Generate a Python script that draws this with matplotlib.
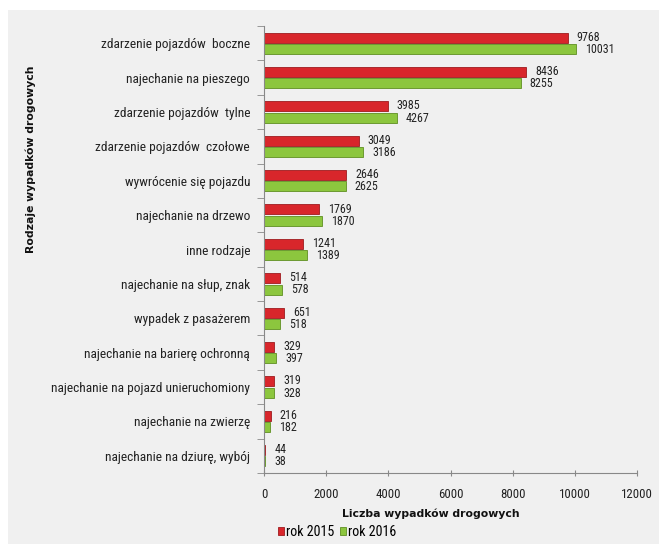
import matplotlib
matplotlib.use("Agg")
import matplotlib.pyplot as plt
import numpy as np
from matplotlib.patches import Rectangle
from matplotlib import font_manager as fm

categories = [
    "zdarzenie pojazdów  boczne",
    "najechanie na pieszego",
    "zdarzenie pojazdów  tylne",
    "zdarzenie pojazdów  czołowe",
    "wywrócenie się pojazdu",
    "najechanie na drzewo",
    "inne rodzaje",
    "najechanie na słup, znak",
    "wypadek z pasażerem",
    "najechanie na barierę ochronną",
    "najechanie na pojazd unieruchomiony",
    "najechanie na zwierzę",
    "najechanie na dziurę, wybój",
]
rok2015 = [9768, 8436, 3985, 3049, 2646, 1769, 1241, 514, 651, 329, 319, 216, 44]
rok2016 = [10031, 8255, 4267, 3186, 2625, 1870, 1389, 578, 518, 397, 328, 182, 38]
xticks = [0, 2000, 4000, 6000, 8000, 10000, 12000]


def _regular(f):
    w = f.weight
    return f.style == "normal" and (w == 400 or w == "normal" or w == "regular")


def pick_narrow():
    entries = [f for f in fm.fontManager.ttflist if _regular(f)]
    names = ["Liberation Sans Narrow", "Arial Narrow", "Roboto Condensed",
             "Noto Sans Condensed", "Open Sans Condensed", "DejaVu Sans Condensed"]
    scales = {"Liberation Sans Narrow": 1.0, "Arial Narrow": 1.0, "Roboto Condensed": 0.88,
              "Noto Sans Condensed": 0.85, "Open Sans Condensed": 0.85,
              "DejaVu Sans Condensed": 0.82}
    for nm in names:
        for f in entries:
            if f.name == nm:
                return fm.FontProperties(fname=f.fname), scales[nm]
    for f in entries:
        fn = f.fname.lower().rsplit("/", 1)[-1]
        if fn.startswith("notosans-condensed.") or fn.startswith("notosans-semicondensed."):
            return fm.FontProperties(fname=f.fname), 0.85
    for f in entries:
        nm = f.name.lower()
        if ("condensed" in nm or "narrow" in nm or f.stretch in ("condensed", "semi-condensed")) \
                and "mono" not in nm and "serif" not in nm:
            return fm.FontProperties(fname=f.fname), 0.86
    return fm.FontProperties(family="Liberation Sans"), 0.8


base_fp, scale = pick_narrow()


def nfp(size):
    p = base_fp.copy()
    p.set_size(size * scale)
    return p


W, H = 659, 544
bg = "#f0f0f0"
red = "#d8262b"
green = "#8cc63e"

fig = plt.figure(figsize=(W / 100, H / 100), dpi=100)
fig.patch.set_facecolor("white")
fig.patches.append(Rectangle((8 / W, 0), 1, (H - 10) / H, transform=fig.transFigure,
                             facecolor=bg, edgecolor="none", zorder=-10))

ax = fig.add_axes([264 / W, (H - 473) / H, (637 - 264) / W, (473 - 26) / H])
ax.set_facecolor(bg)

y = np.arange(len(categories))
off = 0.165
h = 0.29
ax.barh(y - off, rok2015, height=h, color=red, edgecolor="#9e1b1f", linewidth=0.6, label="rok 2015")
ax.barh(y + off, rok2016, height=h, color=green, edgecolor="#5f8f22", linewidth=0.6, label="rok 2016")

for i in range(len(categories)):
    ax.annotate(str(rok2015[i]), (rok2015[i], y[i] - off), xytext=(6.5, 0.3), textcoords="offset points",
                va="center", ha="left", fontproperties=nfp(9.8), color="#222222")
    ax.annotate(str(rok2016[i]), (rok2016[i], y[i] + off), xytext=(6.5, -0.3), textcoords="offset points",
                va="center", ha="left", fontproperties=nfp(9.8), color="#222222")

ax.set_ylim(len(categories) - 0.5, -0.5)
ax.set_xlim(0, 12000)
ax.set_yticks(y)
ax.set_yticklabels(categories, fontproperties=nfp(11), color="#222222")
ax.set_yticks(np.arange(len(categories) + 1) - 0.5, minor=True)
ax.tick_params(axis="y", which="major", length=0, pad=10)
ax.tick_params(axis="y", which="minor", length=5, color="#888888", direction="out")
ax.set_xticks(xticks)
ax.set_xticklabels([str(t) for t in xticks], fontproperties=nfp(10.5), color="#222222")
ax.tick_params(axis="x", length=5, color="#888888", direction="inout", pad=8)

for s in ["top", "right"]:
    ax.spines[s].set_visible(False)
for s in ["left", "bottom"]:
    ax.spines[s].set_color("#888888")
    ax.spines[s].set_linewidth(0.8)

fig.text(431 / W, 1 - 514 / H, "Liczba wypadków drogowych", ha="center", va="center",
         fontsize=7.8, fontweight="bold", family="DejaVu Sans", color="#111111")
fig.text(31 / W, 1 - 159 / H, "Rodzaje wypadków drogowych", ha="center", va="center",
         rotation=90, fontsize=7.8, fontweight="bold", family="DejaVu Sans", color="#111111")

leg = fig.legend(loc="center left", bbox_to_anchor=(278 / W, 1 - 532 / H), ncol=2, frameon=False,
                 prop=nfp(11.5), handlelength=0.45, handleheight=0.45,
                 handletextpad=0.15, columnspacing=0.35, borderaxespad=0, borderpad=0)

fig.savefig("out.png", dpi=100, facecolor="white")
